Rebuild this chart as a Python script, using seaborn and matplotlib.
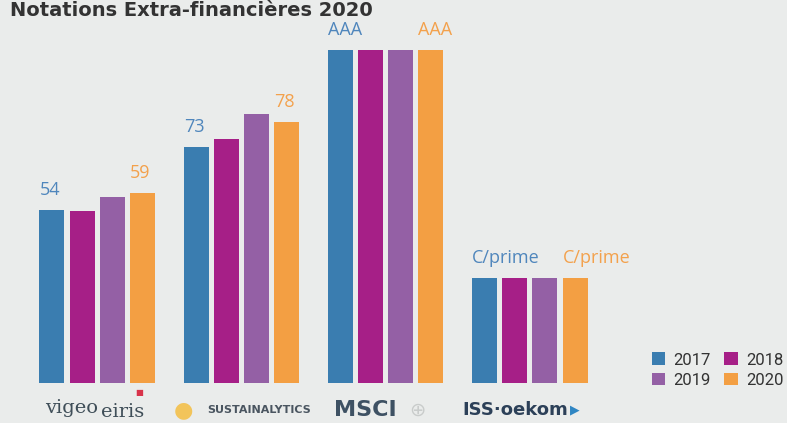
import pandas as pd
import matplotlib.pyplot as plt
import seaborn as sns

# agencies (shown as logos under each group)
agencies = ["vigeo eiris", "SUSTAINALYTICS", "MSCI", "ISS-oekom"]
years = ["2017", "2018", "2019", "2020"]

# bar heights (score scale, 2017..2020)
vigeo = [54, 53.8, 58, 59.4]
sustainalytics = [73.8, 76.3, 84, 81.6]
msci = [104, 104, 104, 104]
iss = [32.8, 32.8, 32.8, 32.8]

# printed ratings above the 2017 and 2020 bars
labels_2017 = ["54", "73", "AAA", "C/prime"]
labels_2020 = ["59", "78", "AAA", "C/prime"]

colors = ["#3A7DB0", "#A61F87", "#9460A5", "#F39F43"]
label_colors = {"2017": "#4F86BC", "2020": "#F3A14C"}
bg = "#EAECEB"

rows = []
for agency, vals in zip(agencies, [vigeo, sustainalytics, msci, iss]):
    for year, v in zip(years, vals):
        rows.append({"agency": agency, "year": year, "height": v})
df = pd.DataFrame(rows)

sns.set_style("white")
fig = plt.figure(figsize=(7.87, 4.23), dpi=100, facecolor=bg)
ax = fig.add_axes([0.0254, 0.0946, 0.7624, 0.858])
ax.set_facecolor(bg)

sns.barplot(data=df, x="agency", y="height", hue="year", order=agencies,
            hue_order=years, palette=colors, saturation=1,
            width=0.833, gap=0.167, linewidth=0, ax=ax)

ax.set_xlim(-0.534, 3.624)
ax.set_ylim(0, 113.4)
ax.set_xlabel("")
ax.set_ylabel("")
ax.set_xticks([])
ax.set_yticks([])
sns.despine(ax=ax, left=True, bottom=True)

# rating labels over first and last bar of each group
for cont, labs, year in [(ax.containers[0], labels_2017, "2017"),
                         (ax.containers[3], labels_2020, "2020")]:
    for bar, lab in zip(cont, labs):
        ax.annotate(lab, (bar.get_x(), bar.get_height()),
                    xytext=(0, 8), textcoords="offset points",
                    ha="left", va="bottom", fontsize=13,
                    color=label_colors[year], family="Open Sans")

# logos drawn as text under the groups
xt = ax.get_xaxis_transform()
ax.text(-0.18, -0.068, "vigeo", transform=xt, ha="center", va="center",
        fontsize=14, color="#3F4E58", family="DejaVu Serif")
ax.text(0.18, -0.08, "eiris", transform=xt, ha="center", va="center",
        fontsize=14, color="#3F4E58", family="DejaVu Serif")
ax.text(0.29, -0.025, "■", transform=xt, ha="center", va="center",
        fontsize=6, color="#D8334A")
ax.text(0.6, -0.075, "●", transform=xt, ha="center", va="center",
        fontsize=16, color="#F2C45A")
ax.text(1.12, -0.075, "SUSTAINALYTICS", transform=xt, ha="center", va="center",
        fontsize=8, color="#4A5560", family="DejaVu Sans", fontweight="bold")
ax.text(1.86, -0.075, "MSCI", transform=xt, ha="center", va="center",
        fontsize=16, color="#3E5163", family="DejaVu Sans", fontweight="bold")
ax.text(2.22, -0.075, "⊕", transform=xt, ha="center", va="center",
        fontsize=14, color="#C9CCCB")
ax.text(2.9, -0.075, "ISS·oekom", transform=xt, ha="center", va="center",
        fontsize=13, color="#2C4058", family="Liberation Sans Narrow",
        fontweight="bold")
ax.text(3.31, -0.075, "▶", transform=xt, ha="center", va="center",
        fontsize=9, color="#2F86C3")

# legend at bottom right, filled row by row
handles, labs = ax.get_legend_handles_labels()
order = [0, 2, 1, 3]
ax.legend([handles[i] for i in order], [labs[i] for i in order], ncol=2,
          loc="center", bbox_to_anchor=(0.912, 0.125),
          bbox_transform=fig.transFigure, frameon=False, handlelength=0.8,
          handleheight=0.8, handletextpad=0.5, columnspacing=0.8,
          labelspacing=0.3, prop={"family": "Roboto", "size": 12},
          labelcolor="#333333")

fig.text(0.013, 0.998, "Notations Extra-financières 2020", ha="left",
         va="top", fontsize=14, fontweight="bold", color="#333333")

fig.savefig("out.png", dpi=100, facecolor=bg)
